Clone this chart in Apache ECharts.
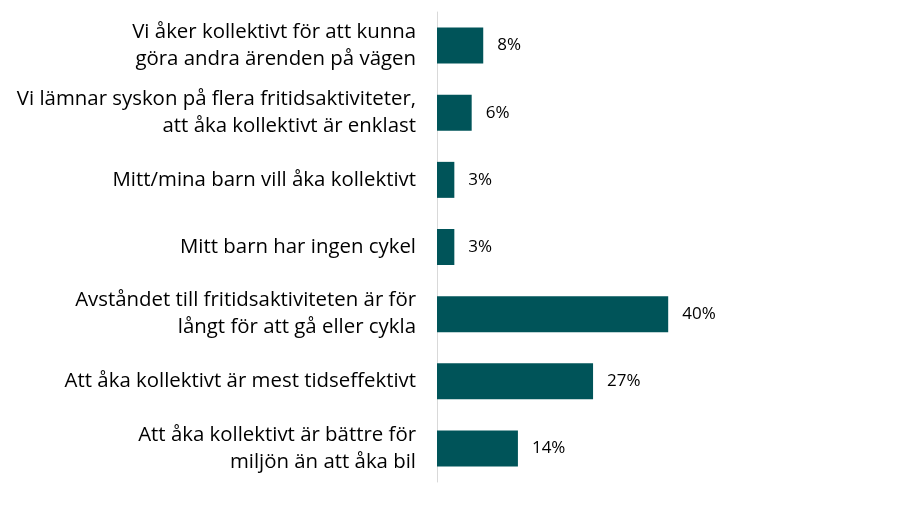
<!DOCTYPE html>
<html>
<head>
<meta charset="utf-8">
<script src="https://cdn.jsdelivr.net/npm/echarts@6/dist/echarts.min.js"></script>
<style>
  html, body { margin: 0; padding: 0; background: #fff; }
  #chart { width: 900px; height: 505px; }
</style>
</head>
<body>
<div id="chart"></div>
<script>
'use strict';
// svar, uppifrån och ned
const reasons = [
    'Vi åker kollektivt för att kunna\ngöra andra ärenden på vägen',
    'Vi lämnar syskon på flera fritidsaktiviteter,\natt åka kollektivt är enklast',
    'Mitt/mina barn vill åka kollektivt',
    'Mitt barn har ingen cykel',
    'Avståndet till fritidsaktiviteten är för\nlångt för att gå eller cykla',
    'Att åka kollektivt är mest tidseffektivt',
    'Att åka kollektivt är bättre för\nmiljön än att åka bil'
];
const shares = [8, 6, 3, 3, 40, 27, 14];

let myChart = echarts.init(document.getElementById('chart'));

let option = {
    animation: false,
    grid: {
        left: 437,
        right: 900 - 437 - 50 * 5.78,
        top: 12,
        bottom: 23
    },
    xAxis: {
        type: 'value',
        min: 0,
        max: 50,
        show: false
    },
    yAxis: {
        type: 'category',
        inverse: true,
        data: reasons,
        axisLine: { show: true, lineStyle: { color: '#d9d9d9', width: 1 } },
        axisTick: { show: false },
        axisLabel: {
            margin: 21,
            color: '#000',
            fontSize: 20.4,
            lineHeight: 27,
            fontFamily: '"Open Sans", sans-serif',
            align: 'right'
        }
    },
    series: [{
        type: 'bar',
        data: shares,
        barWidth: 36,
        itemStyle: { color: '#005459' },
        label: {
            show: true,
            position: 'right',
            distance: 14,
            color: '#000',
            fontSize: 17,
            fontFamily: '"Open Sans", sans-serif',
            formatter: function(p) {
                return p.value + '%';
            }
        }
    }]
};

myChart.setOption(option);
</script>
</body>
</html>
